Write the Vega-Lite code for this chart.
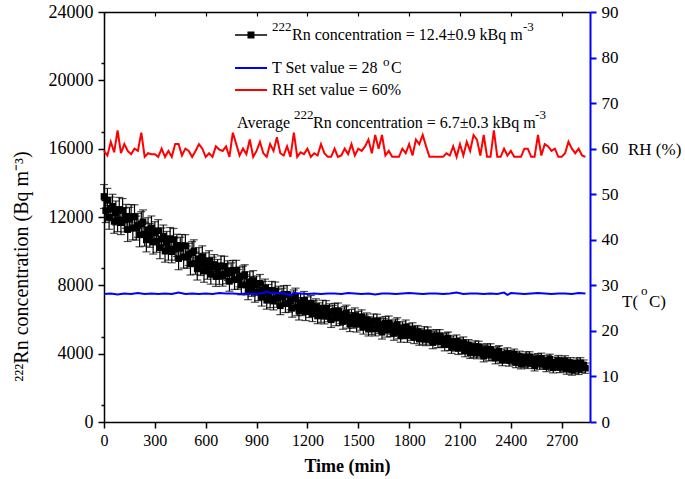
{
  "$schema": "https://vega.github.io/schema/vega-lite/v6.json",
  "width": 486,
  "height": 410,
  "autosize": {"type": "none"},
  "padding": {"left": 104, "top": 12, "right": 95, "bottom": 57},
  "background": "white",
  "config": {
    "view": {"stroke": null},
    "font": "Liberation Serif, Times New Roman, serif",
    "axis": {"labelFont": "Liberation Serif, Times New Roman, serif", "titleFont": "Liberation Serif, Times New Roman, serif", "grid": false, "domainColor": "black", "tickColor": "black", "labelColor": "black", "titleColor": "black", "labelOverlap": false, "labelFlush": false},
    "text": {"font": "Liberation Serif, Times New Roman, serif", "color": "black"}
  },
  "datasets": {
    "rn": [
      {"t":0,"rn":13200,"e":700},{"t":10,"rn":12375,"e":700},{"t":20,"rn":12975,"e":700},{"t":30,"rn":11980,"e":700},{"t":40,"rn":12470,"e":700},{"t":50,"rn":12630,"e":700},{"t":60,"rn":11745,"e":700},{"t":70,"rn":12235,"e":700},{"t":80,"rn":11845,"e":700},{"t":90,"rn":12445,"e":700},
      {"t":100,"rn":11670,"e":700},{"t":110,"rn":12380,"e":700},{"t":120,"rn":11825,"e":700},{"t":130,"rn":12040,"e":700},{"t":140,"rn":11265,"e":700},{"t":150,"rn":11865,"e":700},{"t":160,"rn":12025,"e":700},{"t":170,"rn":11360,"e":700},{"t":180,"rn":12015,"e":700},{"t":190,"rn":11350,"e":700},
      {"t":200,"rn":11510,"e":700},{"t":210,"rn":10955,"e":700},{"t":220,"rn":11610,"e":700},{"t":230,"rn":11715,"e":700},{"t":240,"rn":10995,"e":700},{"t":250,"rn":10660,"e":700},{"t":260,"rn":11260,"e":700},{"t":270,"rn":10925,"e":700},{"t":280,"rn":11360,"e":700},{"t":290,"rn":10530,"e":700},
      {"t":300,"rn":11075,"e":650},{"t":310,"rn":10585,"e":650},{"t":320,"rn":11195,"e":650},{"t":330,"rn":10210,"e":650},{"t":340,"rn":10710,"e":650},{"t":350,"rn":10880,"e":650},{"t":360,"rn":10005,"e":650},{"t":370,"rn":10505,"e":650},{"t":380,"rn":10125,"e":650},{"t":390,"rn":10735,"e":650},
      {"t":400,"rn":9970,"e":650},{"t":410,"rn":10680,"e":650},{"t":420,"rn":10125,"e":650},{"t":430,"rn":10340,"e":650},{"t":440,"rn":9565,"e":650},{"t":450,"rn":10165,"e":650},{"t":460,"rn":10325,"e":650},{"t":470,"rn":9660,"e":650},{"t":480,"rn":10315,"e":650},{"t":490,"rn":9650,"e":650},
      {"t":500,"rn":9810,"e":650},{"t":510,"rn":9255,"e":650},{"t":520,"rn":9910,"e":650},{"t":530,"rn":10015,"e":650},{"t":540,"rn":9295,"e":650},{"t":550,"rn":8960,"e":650},{"t":560,"rn":9560,"e":650},{"t":570,"rn":9225,"e":650},{"t":580,"rn":9660,"e":650},{"t":590,"rn":8830,"e":650},
      {"t":600,"rn":9325,"e":580},{"t":610,"rn":8935,"e":580},{"t":620,"rn":9445,"e":580},{"t":630,"rn":8650,"e":580},{"t":640,"rn":9070,"e":580},{"t":650,"rn":9220,"e":580},{"t":660,"rn":8515,"e":580},{"t":670,"rn":8935,"e":580},{"t":680,"rn":8635,"e":580},{"t":690,"rn":9145,"e":580},
      {"t":700,"rn":8530,"e":580},{"t":710,"rn":9120,"e":580},{"t":720,"rn":8675,"e":580},{"t":730,"rn":8860,"e":580},{"t":740,"rn":8235,"e":580},{"t":750,"rn":8735,"e":580},{"t":760,"rn":8875,"e":580},{"t":770,"rn":8340,"e":580},{"t":780,"rn":8885,"e":580},{"t":790,"rn":8350,"e":580},
      {"t":800,"rn":8490,"e":580},{"t":810,"rn":8025,"e":580},{"t":820,"rn":8550,"e":580},{"t":830,"rn":8625,"e":580},{"t":840,"rn":8025,"e":580},{"t":850,"rn":7740,"e":580},{"t":860,"rn":8220,"e":580},{"t":870,"rn":7935,"e":580},{"t":880,"rn":8280,"e":580},{"t":890,"rn":7590,"e":580},
      {"t":900,"rn":8025,"e":520},{"t":910,"rn":7620,"e":520},{"t":920,"rn":8115,"e":520},{"t":930,"rn":7305,"e":520},{"t":940,"rn":7710,"e":520},{"t":950,"rn":7845,"e":520},{"t":960,"rn":7125,"e":520},{"t":970,"rn":7530,"e":520},{"t":980,"rn":7215,"e":520},{"t":990,"rn":7710,"e":520},
      {"t":1000,"rn":7080,"e":520},{"t":1010,"rn":7675,"e":520},{"t":1020,"rn":7235,"e":520},{"t":1030,"rn":7425,"e":520},{"t":1040,"rn":6805,"e":520},{"t":1050,"rn":7310,"e":520},{"t":1060,"rn":7455,"e":520},{"t":1070,"rn":6925,"e":520},{"t":1080,"rn":7475,"e":520},{"t":1090,"rn":6945,"e":520},
      {"t":1100,"rn":7090,"e":520},{"t":1110,"rn":6655,"e":520},{"t":1120,"rn":7210,"e":520},{"t":1130,"rn":7315,"e":520},{"t":1140,"rn":6745,"e":520},{"t":1150,"rn":6490,"e":520},{"t":1160,"rn":7000,"e":520},{"t":1170,"rn":6745,"e":520},{"t":1180,"rn":7120,"e":520},{"t":1190,"rn":6460,"e":520},
      {"t":1200,"rn":6875,"e":450},{"t":1210,"rn":6565,"e":450},{"t":1220,"rn":6955,"e":450},{"t":1230,"rn":6330,"e":450},{"t":1240,"rn":6650,"e":450},{"t":1250,"rn":6760,"e":450},{"t":1260,"rn":6205,"e":450},{"t":1270,"rn":6525,"e":450},{"t":1280,"rn":6285,"e":450},{"t":1290,"rn":6675,"e":450},
      {"t":1300,"rn":6190,"e":450},{"t":1310,"rn":6655,"e":450},{"t":1320,"rn":6315,"e":450},{"t":1330,"rn":6465,"e":450},{"t":1340,"rn":5985,"e":450},{"t":1350,"rn":6380,"e":450},{"t":1360,"rn":6495,"e":450},{"t":1370,"rn":6085,"e":450},{"t":1380,"rn":6515,"e":450},{"t":1390,"rn":6105,"e":450},
      {"t":1400,"rn":6220,"e":450},{"t":1410,"rn":5880,"e":450},{"t":1420,"rn":6310,"e":450},{"t":1430,"rn":6390,"e":450},{"t":1440,"rn":5945,"e":450},{"t":1450,"rn":5745,"e":450},{"t":1460,"rn":6140,"e":450},{"t":1470,"rn":5940,"e":450},{"t":1480,"rn":6230,"e":450},{"t":1490,"rn":5715,"e":450},
      {"t":1500,"rn":6075,"e":400},{"t":1510,"rn":5770,"e":400},{"t":1520,"rn":6165,"e":400},{"t":1530,"rn":5545,"e":400},{"t":1540,"rn":5870,"e":400},{"t":1550,"rn":5985,"e":400},{"t":1560,"rn":5435,"e":400},{"t":1570,"rn":5760,"e":400},{"t":1580,"rn":5525,"e":400},{"t":1590,"rn":5920,"e":400},
      {"t":1600,"rn":5440,"e":400},{"t":1610,"rn":5910,"e":400},{"t":1620,"rn":5575,"e":400},{"t":1630,"rn":5730,"e":400},{"t":1640,"rn":5255,"e":400},{"t":1650,"rn":5655,"e":400},{"t":1660,"rn":5775,"e":400},{"t":1670,"rn":5370,"e":400},{"t":1680,"rn":5805,"e":400},{"t":1690,"rn":5400,"e":400},
      {"t":1700,"rn":5520,"e":400},{"t":1710,"rn":5185,"e":400},{"t":1720,"rn":5620,"e":400},{"t":1730,"rn":5705,"e":400},{"t":1740,"rn":5265,"e":400},{"t":1750,"rn":5070,"e":400},{"t":1760,"rn":5470,"e":400},{"t":1770,"rn":5275,"e":400},{"t":1780,"rn":5570,"e":400},{"t":1790,"rn":5060,"e":400},
      {"t":1800,"rn":5390,"e":360},{"t":1810,"rn":5140,"e":360},{"t":1820,"rn":5450,"e":360},{"t":1830,"rn":4950,"e":360},{"t":1840,"rn":5210,"e":360},{"t":1850,"rn":5290,"e":360},{"t":1860,"rn":4850,"e":360},{"t":1870,"rn":5100,"e":360},{"t":1880,"rn":4910,"e":360},{"t":1890,"rn":5220,"e":360},
      {"t":1900,"rn":4830,"e":360},{"t":1910,"rn":5200,"e":360},{"t":1920,"rn":4920,"e":360},{"t":1930,"rn":5040,"e":360},{"t":1940,"rn":4650,"e":360},{"t":1950,"rn":4960,"e":360},{"t":1960,"rn":5045,"e":360},{"t":1970,"rn":4715,"e":360},{"t":1980,"rn":5050,"e":360},{"t":1990,"rn":4720,"e":360},
      {"t":2000,"rn":4805,"e":360},{"t":2010,"rn":4525,"e":360},{"t":2020,"rn":4860,"e":360},{"t":2030,"rn":4910,"e":360},{"t":2040,"rn":4545,"e":360},{"t":2050,"rn":4375,"e":360},{"t":2060,"rn":4680,"e":360},{"t":2070,"rn":4510,"e":360},{"t":2080,"rn":4735,"e":360},{"t":2090,"rn":4310,"e":360},
      {"t":2100,"rn":4590,"e":330},{"t":2110,"rn":4340,"e":330},{"t":2120,"rn":4650,"e":330},{"t":2130,"rn":4150,"e":330},{"t":2140,"rn":4405,"e":330},{"t":2150,"rn":4495,"e":330},{"t":2160,"rn":4050,"e":330},{"t":2170,"rn":4305,"e":330},{"t":2180,"rn":4110,"e":330},{"t":2190,"rn":4420,"e":330},
      {"t":2200,"rn":4030,"e":330},{"t":2210,"rn":4400,"e":330},{"t":2220,"rn":4120,"e":330},{"t":2230,"rn":4235,"e":330},{"t":2240,"rn":3850,"e":330},{"t":2250,"rn":4160,"e":330},{"t":2260,"rn":4245,"e":330},{"t":2270,"rn":3915,"e":330},{"t":2280,"rn":4250,"e":330},{"t":2290,"rn":3920,"e":330},
      {"t":2300,"rn":4005,"e":330},{"t":2310,"rn":3735,"e":330},{"t":2320,"rn":4080,"e":330},{"t":2330,"rn":4140,"e":330},{"t":2340,"rn":3785,"e":330},{"t":2350,"rn":3625,"e":330},{"t":2360,"rn":3940,"e":330},{"t":2370,"rn":3780,"e":330},{"t":2380,"rn":4015,"e":330},{"t":2390,"rn":3600,"e":330},
      {"t":2400,"rn":3890,"e":300},{"t":2410,"rn":3650,"e":300},{"t":2420,"rn":3970,"e":300},{"t":2430,"rn":3480,"e":300},{"t":2440,"rn":3745,"e":300},{"t":2450,"rn":3845,"e":300},{"t":2460,"rn":3410,"e":300},{"t":2470,"rn":3675,"e":300},{"t":2480,"rn":3490,"e":300},{"t":2490,"rn":3810,"e":300},
      {"t":2500,"rn":3430,"e":300},{"t":2510,"rn":3810,"e":300},{"t":2520,"rn":3540,"e":300},{"t":2530,"rn":3665,"e":300},{"t":2540,"rn":3290,"e":300},{"t":2550,"rn":3610,"e":300},{"t":2560,"rn":3705,"e":300},{"t":2570,"rn":3385,"e":300},{"t":2580,"rn":3730,"e":300},{"t":2590,"rn":3410,"e":300},
      {"t":2600,"rn":3505,"e":300},{"t":2610,"rn":3245,"e":300},{"t":2620,"rn":3600,"e":300},{"t":2630,"rn":3670,"e":300},{"t":2640,"rn":3325,"e":300},{"t":2650,"rn":3175,"e":300},{"t":2660,"rn":3500,"e":300},{"t":2670,"rn":3350,"e":300},{"t":2680,"rn":3595,"e":300},{"t":2690,"rn":3190,"e":300},
      {"t":2700,"rn":3490,"e":300},{"t":2710,"rn":3255,"e":300},{"t":2720,"rn":3580,"e":300},{"t":2730,"rn":3095,"e":300},{"t":2740,"rn":3365,"e":300},{"t":2750,"rn":3470,"e":300},{"t":2760,"rn":3040,"e":300},{"t":2770,"rn":3310,"e":300},{"t":2780,"rn":3130,"e":300},{"t":2790,"rn":3455,"e":300},
      {"t":2800,"rn":3080,"e":300},{"t":2810,"rn":3465,"e":300},{"t":2820,"rn":3200,"e":300},{"t":2830,"rn":3330,"e":300},{"t":2840,"rn":3150,"e":300}
    ],
    "temp": [
      {"t":0,"T":28.1},{"t":40,"T":28.2},{"t":80,"T":28.0},{"t":120,"T":28.2},{"t":160,"T":28.1},{"t":200,"T":28.3},{"t":240,"T":28.1},{"t":280,"T":28.2},{"t":320,"T":28.1},{"t":360,"T":28.2},{"t":400,"T":28.1},{"t":440,"T":28.4},{"t":480,"T":28.1},{"t":520,"T":28.2},{"t":560,"T":28.1},{"t":600,"T":28.2},{"t":640,"T":28.1},{"t":680,"T":28.3},{"t":720,"T":28.2},{"t":760,"T":28.2},{"t":800,"T":28.1},{"t":840,"T":28.2},{"t":880,"T":28.1},{"t":920,"T":28.2},{"t":960,"T":28.6},{"t":1000,"T":28.2},{"t":1040,"T":28.3},{"t":1080,"T":28.1},{"t":1100,"T":27.8},{"t":1120,"T":28.3},{"t":1160,"T":28.2},{"t":1200,"T":28.1},{"t":1240,"T":28.2},{"t":1280,"T":28.1},{"t":1320,"T":28.2},{"t":1360,"T":28.2},{"t":1400,"T":28.1},{"t":1440,"T":28.3},{"t":1480,"T":28.2},{"t":1520,"T":28.1},{"t":1560,"T":28.2},{"t":1600,"T":28.0},{"t":1640,"T":28.2},{"t":1680,"T":28.2},{"t":1720,"T":28.1},{"t":1760,"T":28.2},{"t":1800,"T":28.3},{"t":1840,"T":28.2},{"t":1880,"T":28.1},{"t":1920,"T":28.2},{"t":1960,"T":28.2},{"t":2000,"T":28.1},{"t":2040,"T":28.2},{"t":2080,"T":28.4},{"t":2120,"T":28.1},{"t":2160,"T":28.2},{"t":2200,"T":28.2},{"t":2240,"T":28.1},{"t":2280,"T":28.2},{"t":2320,"T":28.1},{"t":2360,"T":28.4},{"t":2380,"T":27.9},{"t":2400,"T":28.3},{"t":2440,"T":28.2},{"t":2480,"T":28.1},{"t":2520,"T":28.2},{"t":2560,"T":28.3},{"t":2600,"T":28.2},{"t":2640,"T":28.1},{"t":2680,"T":28.2},{"t":2720,"T":28.2},{"t":2760,"T":28.1},{"t":2800,"T":28.3},{"t":2840,"T":28.2}
    ],
    "rh": [
      {"t":0,"rh":59.5},{"t":20,"rh":58.5},{"t":40,"rh":61.5},{"t":60,"rh":59.2},{"t":80,"rh":64.0},{"t":100,"rh":59.0},{"t":120,"rh":61.0},{"t":140,"rh":59.5},{"t":160,"rh":58.8},{"t":180,"rh":60.0},{"t":200,"rh":59.5},{"t":220,"rh":63.5},{"t":240,"rh":58.2},{"t":260,"rh":59.0},{"t":280,"rh":58.8},{"t":300,"rh":58.8},{"t":320,"rh":58.2},{"t":340,"rh":60.0},{"t":360,"rh":58.2},{"t":380,"rh":59.5},{"t":400,"rh":58.2},{"t":420,"rh":61.0},{"t":440,"rh":61.0},{"t":460,"rh":58.5},{"t":480,"rh":60.0},{"t":500,"rh":59.5},{"t":520,"rh":58.2},{"t":540,"rh":59.5},{"t":560,"rh":61.0},{"t":580,"rh":60.0},{"t":600,"rh":58.2},{"t":620,"rh":59.0},{"t":640,"rh":58.2},{"t":660,"rh":60.5},{"t":680,"rh":59.8},{"t":700,"rh":59.5},{"t":720,"rh":60.5},{"t":740,"rh":58.2},{"t":760,"rh":63.5},{"t":780,"rh":61.0},{"t":800,"rh":58.5},{"t":820,"rh":60.0},{"t":840,"rh":58.8},{"t":860,"rh":62.0},{"t":880,"rh":58.2},{"t":900,"rh":59.5},{"t":920,"rh":61.5},{"t":940,"rh":59.0},{"t":960,"rh":58.2},{"t":980,"rh":61.0},{"t":1000,"rh":59.5},{"t":1020,"rh":62.5},{"t":1040,"rh":59.0},{"t":1060,"rh":58.5},{"t":1080,"rh":60.5},{"t":1100,"rh":58.2},{"t":1120,"rh":63.5},{"t":1140,"rh":58.2},{"t":1160,"rh":59.2},{"t":1180,"rh":58.8},{"t":1200,"rh":60.0},{"t":1220,"rh":58.2},{"t":1240,"rh":59.0},{"t":1260,"rh":58.5},{"t":1280,"rh":61.0},{"t":1300,"rh":59.0},{"t":1320,"rh":58.2},{"t":1340,"rh":58.2},{"t":1360,"rh":60.0},{"t":1380,"rh":58.2},{"t":1400,"rh":58.5},{"t":1420,"rh":60.0},{"t":1440,"rh":58.8},{"t":1460,"rh":61.0},{"t":1480,"rh":58.5},{"t":1500,"rh":60.0},{"t":1520,"rh":59.5},{"t":1540,"rh":60.5},{"t":1560,"rh":62.0},{"t":1580,"rh":59.0},{"t":1600,"rh":63.0},{"t":1620,"rh":60.0},{"t":1640,"rh":63.0},{"t":1660,"rh":58.5},{"t":1680,"rh":59.5},{"t":1700,"rh":58.2},{"t":1720,"rh":58.2},{"t":1740,"rh":58.2},{"t":1760,"rh":60.0},{"t":1780,"rh":59.0},{"t":1800,"rh":61.0},{"t":1820,"rh":58.5},{"t":1840,"rh":62.0},{"t":1860,"rh":61.0},{"t":1880,"rh":63.0},{"t":1900,"rh":60.5},{"t":1920,"rh":58.2},{"t":1940,"rh":58.2},{"t":1960,"rh":58.2},{"t":1980,"rh":58.2},{"t":2000,"rh":58.2},{"t":2020,"rh":59.0},{"t":2040,"rh":58.5},{"t":2060,"rh":60.5},{"t":2080,"rh":58.2},{"t":2100,"rh":61.0},{"t":2120,"rh":58.5},{"t":2140,"rh":61.5},{"t":2160,"rh":59.5},{"t":2180,"rh":63.0},{"t":2200,"rh":62.0},{"t":2220,"rh":58.5},{"t":2240,"rh":63.0},{"t":2260,"rh":58.2},{"t":2280,"rh":58.2},{"t":2300,"rh":64.0},{"t":2320,"rh":58.2},{"t":2340,"rh":58.2},{"t":2360,"rh":60.0},{"t":2380,"rh":58.5},{"t":2400,"rh":59.5},{"t":2420,"rh":58.2},{"t":2440,"rh":58.2},{"t":2460,"rh":58.2},{"t":2480,"rh":60.0},{"t":2500,"rh":60.0},{"t":2520,"rh":58.2},{"t":2540,"rh":58.2},{"t":2560,"rh":63.0},{"t":2580,"rh":58.5},{"t":2600,"rh":61.0},{"t":2620,"rh":60.5},{"t":2640,"rh":59.5},{"t":2660,"rh":60.0},{"t":2680,"rh":58.2},{"t":2700,"rh":58.2},{"t":2720,"rh":59.0},{"t":2740,"rh":61.5},{"t":2760,"rh":60.0},{"t":2780,"rh":59.0},{"t":2800,"rh":60.0},{"t":2820,"rh":58.5},{"t":2840,"rh":58.2}
    ]
  },
  "layer": [
    {
      "layer": [
        {
          "data": {"name": "rn"},
          "mark": {"type": "errorbar", "ticks": {"size": 8, "color": "black"}, "color": "black", "thickness": 1.2},
          "encoding": {
            "x": {"field": "t", "type": "quantitative", "scale": {"domain": [0, 2867], "nice": false},
              "axis": {"orient": "bottom", "title": "Time (min)", "titleFontSize": 18, "titleFontWeight": "bold", "titlePadding": 9, "labelFontSize": 16, "labelPadding": 4, "format": "d", "labelOverlap": false,
                "values": [0,150,300,450,600,750,900,1050,1200,1350,1500,1650,1800,1950,2100,2250,2400,2550,2700,2850],
                "labelExpr": "datum.value % 300 === 0 ? datum.label : ''",
                "tickSize": {"condition": {"test": "datum.value % 300 === 0", "value": 6}, "value": 3},
                "tickWidth": 1.5, "domainWidth": 1.5}},
            "y": {"field": "rn", "type": "quantitative", "scale": {"domain": [0, 24000], "nice": false},
              "axis": {"orient": "left", "title": "²²²Rn concentration (Bq m⁻³)", "titleFontSize": 20, "titleFontWeight": "normal", "titlePadding": 17, "titleY": 254, "labelFontSize": 18, "labelPadding": 5, "format": "d", "labelOverlap": false,
                "values": [0,2000,4000,6000,8000,10000,12000,14000,16000,18000,20000,22000,24000],
                "tickSize": 6, "tickWidth": 1.5, "domainWidth": 1.5}},
            "yError": {"field": "e"}
          }
        },
        {
          "data": {"name": "rn"},
          "mark": {"type": "square", "size": 45, "color": "black", "opacity": 1, "filled": true},
          "encoding": {"x": {"field": "t", "type": "quantitative"}, "y": {"field": "rn", "type": "quantitative"}}
        }
      ]
    },
    {
      "layer": [
        {
          "data": {"name": "temp"},
          "mark": {"type": "line", "color": "#0000ff", "strokeWidth": 2},
          "encoding": {
            "x": {"field": "t", "type": "quantitative",
              "axis": {"orient": "top", "title": null, "labels": false, "domainWidth": 1.5, "tickWidth": 1.2,
                "values": [0,150,300,450,600,750,900,1050,1200,1350,1500,1650,1800,1950,2100,2250,2400,2550,2700,2850],
                "tickSize": -4}},
            "y": {"field": "T", "type": "quantitative", "scale": {"domain": [0, 90], "nice": false},
              "axis": {"orient": "right", "title": null, "labelFontSize": 17, "labelPadding": 5, "domainColor": "#0000ff", "tickColor": "#0000ff", "domainWidth": 2, "tickWidth": 2, "labelOverlap": false,
                "values": [0,5,10,15,20,25,30,35,40,45,50,55,60,65,70,75,80,85,90],
                "labelExpr": "datum.value % 10 === 0 ? datum.label : ''",
                "tickSize": {"condition": {"test": "datum.value % 10 === 0", "value": 6}, "value": 3}}}
          }
        },
        {
          "data": {"name": "rh"},
          "mark": {"type": "line", "color": "#ff0000", "strokeWidth": 2},
          "encoding": {"x": {"field": "t", "type": "quantitative"}, "y": {"field": "rh", "type": "quantitative"}}
        },
        {
          "data": {"values": [{}]},
          "mark": {"type": "text", "align": "left", "baseline": "alphabetic", "fontSize": 17},
          "encoding": {"x": {"datum": 3091, "type": "quantitative"}, "y": {"datum": 58.6, "type": "quantitative"}, "text": {"value": "RH (%)"}}
        },
        {
          "data": {"values": [{}]},
          "mark": {"type": "text", "align": "left", "baseline": "alphabetic", "fontSize": 17},
          "encoding": {"x": {"datum": 3056, "type": "quantitative"}, "y": {"datum": 25.2, "type": "quantitative"}, "text": {"value": "T("}}
        },
        {
          "data": {"values": [{}]},
          "mark": {"type": "text", "align": "left", "baseline": "alphabetic", "fontSize": 13},
          "encoding": {"x": {"datum": 3168, "type": "quantitative"}, "y": {"datum": 27.9, "type": "quantitative"}, "text": {"value": "o"}}
        },
        {
          "data": {"values": [{}]},
          "mark": {"type": "text", "align": "left", "baseline": "alphabetic", "fontSize": 17},
          "encoding": {"x": {"datum": 3215, "type": "quantitative"}, "y": {"datum": 25.2, "type": "quantitative"}, "text": {"value": "C)"}}
        }
      ]
    },
    {
      "layer": [
        {
          "data": {"values": [{}]},
          "mark": {"type": "rule", "color": "black", "strokeWidth": 1.5},
          "encoding": {
            "x": {"datum": 773, "type": "quantitative", "axis": null},
            "x2": {"datum": 962},
            "y": {"datum": 22654, "type": "quantitative", "scale": {"domain": [0, 24000], "nice": false},
              "axis": {"orient": "left", "title": null, "labels": false, "domain": false, "grid": false, "tickSize": 3, "tickWidth": 1.5, "tickColor": "black",
                "values": [1000,3000,5000,7000,9000,11000,13000,15000,17000,19000,21000,23000]}}
          }
        },
        {
          "data": {"values": [{}]},
          "mark": {"type": "square", "size": 49, "color": "black", "opacity": 1, "filled": true},
          "encoding": {"x": {"datum": 867, "type": "quantitative"}, "y": {"datum": 22654, "type": "quantitative"}}
        },
        {
          "data": {"values": [{}]},
          "mark": {"type": "rule", "color": "#0000ff", "strokeWidth": 2},
          "encoding": {"x": {"datum": 773, "type": "quantitative"}, "x2": {"datum": 962}, "y": {"datum": 20722, "type": "quantitative"}}
        },
        {
          "data": {"values": [{}]},
          "mark": {"type": "rule", "color": "#ff0000", "strokeWidth": 2},
          "encoding": {"x": {"datum": 773, "type": "quantitative"}, "x2": {"datum": 962}, "y": {"datum": 19434, "type": "quantitative"}}
        },
        {
          "data": {"values": [{}]},
          "mark": {"type": "text", "align": "left", "baseline": "alphabetic", "fontSize": 13},
          "encoding": {"x": {"datum": 991, "type": "quantitative"}, "y": {"datum": 22888, "type": "quantitative"}, "text": {"value": "222"}}
        },
        {
          "data": {"values": [{}]},
          "mark": {"type": "text", "align": "left", "baseline": "alphabetic", "fontSize": 16},
          "encoding": {"x": {"datum": 1109, "type": "quantitative"}, "y": {"datum": 22361, "type": "quantitative"}, "text": {"value": "Rn concentration = 12.4±0.9 kBq m"}}
        },
        {
          "data": {"values": [{}]},
          "mark": {"type": "text", "align": "left", "baseline": "alphabetic", "fontSize": 13},
          "encoding": {"x": {"datum": 2472, "type": "quantitative"}, "y": {"datum": 22888, "type": "quantitative"}, "text": {"value": "-3"}}
        },
        {
          "data": {"values": [{}]},
          "mark": {"type": "text", "align": "left", "baseline": "alphabetic", "fontSize": 16},
          "encoding": {"x": {"datum": 991, "type": "quantitative"}, "y": {"datum": 20429, "type": "quantitative"}, "text": {"value": "T Set value = 28"}}
        },
        {
          "data": {"values": [{}]},
          "mark": {"type": "text", "align": "left", "baseline": "alphabetic", "fontSize": 13},
          "encoding": {"x": {"datum": 1646, "type": "quantitative"}, "y": {"datum": 20839, "type": "quantitative"}, "text": {"value": "o"}}
        },
        {
          "data": {"values": [{}]},
          "mark": {"type": "text", "align": "left", "baseline": "alphabetic", "fontSize": 16},
          "encoding": {"x": {"datum": 1693, "type": "quantitative"}, "y": {"datum": 20429, "type": "quantitative"}, "text": {"value": "C"}}
        },
        {
          "data": {"values": [{}]},
          "mark": {"type": "text", "align": "left", "baseline": "alphabetic", "fontSize": 16},
          "encoding": {"x": {"datum": 991, "type": "quantitative"}, "y": {"datum": 19141, "type": "quantitative"}, "text": {"value": "RH set value = 60%"}}
        },
        {
          "data": {"values": [{}]},
          "mark": {"type": "text", "align": "left", "baseline": "alphabetic", "fontSize": 16},
          "encoding": {"x": {"datum": 785, "type": "quantitative"}, "y": {"datum": 17210, "type": "quantitative"}, "text": {"value": "Average"}}
        },
        {
          "data": {"values": [{}]},
          "mark": {"type": "text", "align": "left", "baseline": "alphabetic", "fontSize": 13},
          "encoding": {"x": {"datum": 1121, "type": "quantitative"}, "y": {"datum": 17737, "type": "quantitative"}, "text": {"value": "222"}}
        },
        {
          "data": {"values": [{}]},
          "mark": {"type": "text", "align": "left", "baseline": "alphabetic", "fontSize": 16},
          "encoding": {"x": {"datum": 1233, "type": "quantitative"}, "y": {"datum": 17210, "type": "quantitative"}, "text": {"value": "Rn concentration = 6.7±0.3 kBq m"}}
        },
        {
          "data": {"values": [{}]},
          "mark": {"type": "text", "align": "left", "baseline": "alphabetic", "fontSize": 13},
          "encoding": {"x": {"datum": 2543, "type": "quantitative"}, "y": {"datum": 17737, "type": "quantitative"}, "text": {"value": "-3"}}
        }
      ]
    }
  ],
  "resolve": {"scale": {"y": "independent"}, "axis": {"x": "independent", "y": "independent"}}
}
